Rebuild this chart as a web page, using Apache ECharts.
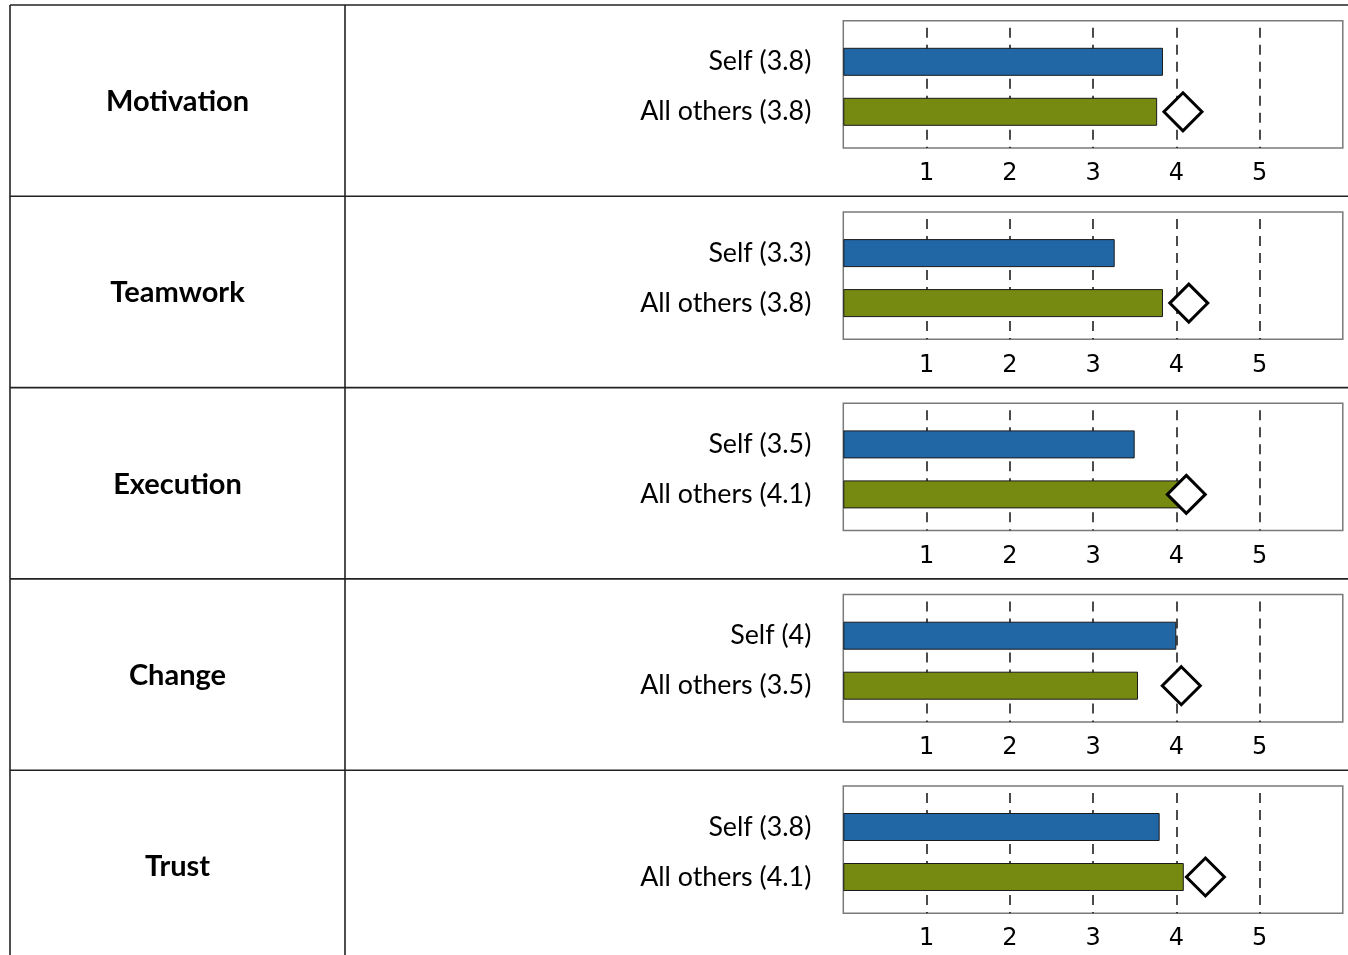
<!DOCTYPE html>
<html>
<head>
<meta charset="utf-8">
<script src="https://cdn.jsdelivr.net/npm/echarts@6/dist/echarts.min.js"></script>
<style>
html,body{margin:0;padding:0;background:#fff;}
#chart{width:1348px;height:955px;}
</style>
</head>
<body>
<div id="chart"></div>
<script>
// ---- data ----
const categories = ['Motivation', 'Teamwork', 'Execution', 'Change', 'Trust'];
const seriesNames = ['Self', 'All others'];
const selfScores = [3.84, 3.26, 3.50, 4.00, 3.80];
const othersScores = [3.77, 3.84, 4.06, 3.54, 4.09];
const normScores = [4.08, 4.15, 4.12, 4.06, 4.35];
const axisMin = 0, axisMax = 6, axisStep = 1;
const tickLabels = ['', '1', '2', '3', '4', '5', ''];

// ---- layout / style ----
const ROW_H = 191.3;
const TABLE_TOP = 5;
const TABLE_LEFT = 10;
const COL_SPLIT = 345;
const PLOT_LEFT = 843.3;
const PLOT_W = 499.5;
const FRAME_TOP = 20.7, FRAME_H = 127.3;
const BAR_TOP = 36.8, BAR_H = 100;
const BLUE = '#2166a5';
const GREEN = '#768a12';

const fmt = v => String(Math.round(v * 10) / 10);

const grid = [], xAxis = [], yAxis = [], series = [], graphic = [];

categories.forEach((cat, r) => {
  const off = r * ROW_H;
  // frame grid (index 2r)
  grid.push({left: PLOT_LEFT, width: PLOT_W, top: FRAME_TOP + off, height: FRAME_H,
    show: true, borderColor: '#7a7a7a', borderWidth: 1.5, backgroundColor: 'transparent'});
  // bar grid (index 2r+1)
  grid.push({left: PLOT_LEFT, width: PLOT_W, top: BAR_TOP + off, height: BAR_H});

  xAxis.push({gridIndex: 2 * r, type: 'value', min: axisMin, max: axisMax, interval: axisStep,
    axisLine: {show: false}, axisTick: {show: false},
    axisLabel: {show: true, margin: 14, color: '#000', fontFamily: 'DejaVu Sans', fontSize: 24,
      formatter: v => tickLabels[Math.round((v - axisMin) / axisStep)] || ''},
    splitLine: {show: true, lineStyle: {color: ['transparent', '#111', '#111', '#111', '#111', '#111', 'transparent'],
      width: 1.5, type: [10, 7], dashOffset: 10}}});
  xAxis.push({gridIndex: 2 * r + 1, type: 'value', min: axisMin, max: axisMax, interval: axisStep,
    show: false, splitLine: {show: false}});

  yAxis.push({gridIndex: 2 * r, type: 'value', min: 0, max: 1, show: false, splitLine: {show: false}});
  yAxis.push({gridIndex: 2 * r + 1, type: 'category', inverse: true,
    data: [`${seriesNames[0]} (${fmt(selfScores[r])})`, `${seriesNames[1]} (${fmt(othersScores[r])})`],
    axisLine: {show: false}, axisTick: {show: false},
    axisLabel: {margin: 32, color: '#000', fontFamily: 'Lato', fontSize: 26.8}});

  series.push({type: 'bar', xAxisIndex: 2 * r + 1, yAxisIndex: 2 * r + 1, barWidth: 28,
    silent: true, animation: false,
    itemStyle: {borderColor: '#1a1a1a', borderWidth: 1},
    data: [
      {value: selfScores[r], itemStyle: {color: BLUE}},
      {value: othersScores[r], itemStyle: {color: GREEN}}
    ]});
  series.push({type: 'scatter', xAxisIndex: 2 * r + 1, yAxisIndex: 2 * r + 1, symbol: 'diamond',
    symbolSize: 38, silent: true, animation: false, z: 5,
    itemStyle: {color: '#fff', borderColor: '#000', borderWidth: 3, opacity: 1},
    data: [[normScores[r], 1]]});

  // table row separator
  graphic.push({type: 'line', silent: true,
    shape: {x1: TABLE_LEFT, y1: TABLE_TOP + off, x2: 1348, y2: TABLE_TOP + off},
    style: {stroke: '#222', lineWidth: 1.6}});
  // row label
  graphic.push({type: 'text', silent: true,
    x: (TABLE_LEFT + COL_SPLIT) / 2, y: TABLE_TOP + off + ROW_H / 2 + 1,
    style: {text: cat, font: 'bold 29px Lato', fill: '#000', textAlign: 'center', textVerticalAlign: 'middle'}});
});

graphic.push({type: 'line', silent: true, shape: {x1: TABLE_LEFT, y1: TABLE_TOP, x2: TABLE_LEFT, y2: 955},
  style: {stroke: '#222', lineWidth: 1.6}});
graphic.push({type: 'line', silent: true, shape: {x1: COL_SPLIT, y1: TABLE_TOP, x2: COL_SPLIT, y2: 955},
  style: {stroke: '#222', lineWidth: 1.6}});

const chart = echarts.init(document.getElementById('chart'), null, {renderer: 'canvas'});
chart.setOption({animation: false, grid, xAxis, yAxis, series, graphic});
</script>
</body>
</html>
